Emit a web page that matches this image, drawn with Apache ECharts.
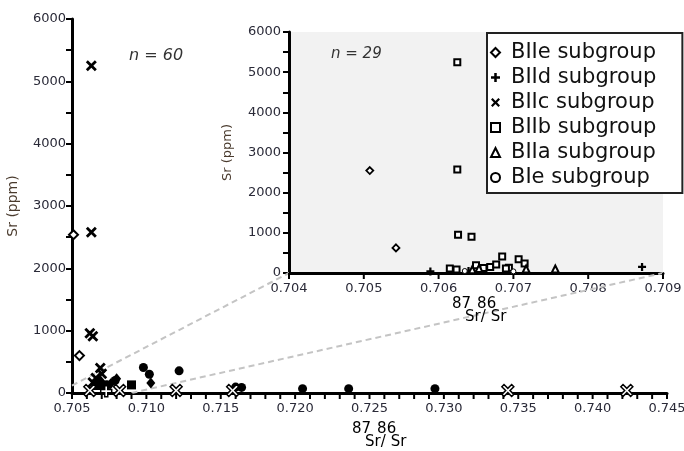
<!DOCTYPE html>
<html>
<head>
<meta charset="utf-8">
<script src="https://cdn.jsdelivr.net/npm/echarts@6/dist/echarts.min.js"></script>
<style>
  html, body { margin: 0; padding: 0; background: #fff; }
  #chart { width: 684px; height: 451px; }
</style>
</head>
<body>
<div id="chart"></div>
<script>
// ---- Main panel: all samples, 87Sr/86Sr vs Sr (ppm) ----
const mainXRange = [0.705, 0.745];
const mainYRange = [0, 6000];
const mainXTickStep = 0.001;
const mainOpenDiamond = [[0.7051, 2540], [0.7055, 600]];
const mainCross = [[0.7063, 5250], [0.7063, 2580], [0.7062, 960], [0.7064, 910],
                   [0.7069, 400], [0.7070, 310], [0.7066, 240], [0.7064, 170]];
const mainDot = [[0.7098, 410], [0.7102, 300], [0.7122, 355], [0.7160, 95], [0.7164, 90],
                 [0.7205, 70], [0.7236, 70], [0.7294, 70], [0.7067, 160], [0.7074, 130], [0.7079, 200]];
const mainSolidDiamond = [[0.7080, 230], [0.7103, 160], [0.7069, 200], [0.7076, 150]];
const mainSolidSquare = [[0.7090, 130], [0.7071, 130], [0.7066, 120]];
const mainOpenCross = [[0.7062, 40], [0.7082, 40], [0.7120, 40], [0.7158, 40], [0.7343, 40], [0.7423, 40]];
const mainOpenPlus = [[0.7073, 30]];

// ---- Inset panel: group B subgroups ----
const insetXRange = [0.704, 0.709];
const insetYRange = [0, 6000];
const insetXTickStep = 0.001;
const subgroupNames = ['BIIe subgroup', 'BIId subgroup', 'BIIc subgroup', 'BIIb subgroup', 'BIIa subgroup', 'BIe subgroup'];
const biie = [[0.70508, 2550], [0.70543, 625]];
const biid = [[0.70589, 40], [0.70640, 50], [0.70872, 150]];
const biic = [];
const biib = [[0.70625, 5250], [0.70625, 2575], [0.70626, 950], [0.70644, 900],
              [0.70615, 110], [0.70624, 85], [0.70650, 190], [0.70660, 125], [0.70669, 150],
              [0.70677, 210], [0.70685, 410], [0.70694, 130], [0.70707, 340], [0.70715, 235], [0.70690, 110]];
const biia = [[0.70654, 110], [0.70717, 100], [0.70756, 100], [0.70645, 80]];
const bie = [[0.70635, 50], [0.70700, 40]];

// links from the magnified corner of the main panel to the inset
const zoomFromMain = [[0.705, 120], [0.709, 0]];
const zoomToInset = [[0.704, 0], [0.709, 0]];

const FONT = 'DejaVu Sans';
const LABEL_COLOR = '#2a2a38';
const TITLE_COLOR = '#4a3b2e';

const CROSS = 'path://M0,1.8L1.8,0L5,3.2L8.2,0L10,1.8L6.8,5L10,8.2L8.2,10L5,6.8L1.8,10L0,8.2L3.2,5Z';
const PLUS = 'path://M3.6,0H6.4V3.6H10V6.4H6.4V10H3.6V6.4H0V3.6H3.6Z';
const TICK_LEN = 6;

function tickStyle() { return { color: '#000', width: 2 }; }

// tick positions along an x axis, every `step` from range[0] to range[1]
function tickValues(range, step) {
  const n = Math.round((range[1] - range[0]) / step);
  const out = [];
  for (let k = 0; k <= n; k++) out.push([+(range[0] + k * step).toFixed(4), 0]);
  return out;
}

function valueAxisX(range, gridIndex, interval) {
  return {
    type: 'value', gridIndex, min: range[0], max: range[1], interval,
    axisLine: { show: true, onZero: false, lineStyle: { color: '#000', width: 3 } },
    axisTick: { show: false },
    splitLine: { show: false },
    axisLabel: { fontFamily: FONT, fontSize: 13, color: LABEL_COLOR, margin: 9,
                 formatter: v => v.toFixed(3) }
  };
}
function valueAxisY(range, gridIndex, nameGap, nameSize, margin) {
  return {
    type: 'value', gridIndex, min: range[0], max: range[1], interval: 1000,
    name: 'Sr (ppm)', nameLocation: 'middle', nameGap,
    nameTextStyle: { fontFamily: FONT, fontSize: nameSize, color: TITLE_COLOR },
    axisLine: { show: true, onZero: false, lineStyle: { color: '#000', width: 3 } },
    axisTick: { show: true, length: TICK_LEN, lineStyle: tickStyle() },
    minorTick: { show: true, splitNumber: 2, length: TICK_LEN, lineStyle: tickStyle() },
    splitLine: { show: false },
    axisLabel: { fontFamily: FONT, fontSize: 13, color: LABEL_COLOR, margin,
                 formatter: v => String(v) }
  };
}
function scatter(name, data, grid, symbol, size, style, z) {
  return {
    type: 'scatter', name, data, xAxisIndex: grid, yAxisIndex: grid,
    symbol, symbolSize: size, itemStyle: Object.assign({ opacity: 1 }, style),
    clip: false, z: z || 3,
    emphasis: { disabled: true }, silent: true
  };
}
// short downward bars hung under the x axis line
function tickSeries(name, grid, range, step) {
  const s = scatter(name, tickValues(range, step), grid, 'rect', [2, TICK_LEN], { color: '#000' }, 2);
  s.symbolOffset = [0, TICK_LEN / 2];
  return s;
}

const open = (w) => ({ color: '#fff', borderColor: '#000', borderWidth: w });
const solid = { color: '#000' };

const isotopeRich = {
  s: { fontFamily: FONT, fontSize: 15, color: '#222', lineHeight: 12 },
  s2: { fontFamily: FONT, fontSize: 15, color: '#222', lineHeight: 12, padding: [0, 0, 0, 6] },
  t: { fontFamily: FONT, fontSize: 15, color: '#222', lineHeight: 13, padding: [0, 0, 0, 13] },
  t2: { fontFamily: FONT, fontSize: 15, color: '#222', lineHeight: 13, padding: [0, 0, 0, 5] }
};
const isotopeText = '{s|87}{s2|86}\n{t|Sr/}{t2|Sr}';

const chart = echarts.init(document.getElementById('chart'), null, { renderer: 'canvas' });

const option = {
  animation: false,
  backgroundColor: '#fff',
  grid: [
    { left: 72, top: 19, width: 595, height: 374, outerBoundsMode: 'none' },
    { left: 289, top: 32, width: 374, height: 241, outerBoundsMode: 'none',
      show: true, backgroundColor: '#f2f2f2', borderWidth: 0 }
  ],
  xAxis: [
    valueAxisX(mainXRange, 0, 0.005),
    valueAxisX(insetXRange, 1, 0.001)
  ],
  yAxis: [
    valueAxisY(mainYRange, 0, 52, 14, 6),
    valueAxisY(insetYRange, 1, 55, 13, 8)
  ],
  legend: {
    data: subgroupNames,
    orient: 'vertical',
    left: 487, top: 33,
    backgroundColor: '#fff',
    borderColor: '#222', borderWidth: 2,
    padding: [9, 26, 5, 3],
    itemWidth: 9, itemHeight: 9, itemGap: 4,
    textStyle: { fontFamily: FONT, fontSize: 21, color: '#111', lineHeight: 21, padding: [0, 0, 0, 6] },
    selectedMode: false,
    z: 10
  },
  series: [
    tickSeries('main-x-ticks', 0, mainXRange, mainXTickStep),
    tickSeries('inset-x-ticks', 1, insetXRange, insetXTickStep),

    scatter('main-open-diamond', mainOpenDiamond, 0, 'diamond', 9, open(2)),
    scatter('main-cross', mainCross, 0, CROSS, 11, solid),
    scatter('main-dot', mainDot, 0, 'circle', 9, solid),
    scatter('main-solid-diamond', mainSolidDiamond, 0, 'diamond', [9, 11], solid),
    scatter('main-solid-square', mainSolidSquare, 0, 'rect', 9, solid),
    scatter('main-open-cross', mainOpenCross, 0, CROSS, 12, open(1.5), 4),
    scatter('main-open-plus', mainOpenPlus, 0, PLUS, 11, open(1.5), 4),

    scatter(subgroupNames[0], biie, 1, 'diamond', 7, open(1.8), 5),
    scatter(subgroupNames[1], biid, 1, PLUS, 8, solid, 5),
    scatter(subgroupNames[2], biic, 1, CROSS, 8, solid, 5),
    scatter(subgroupNames[3], biib, 1, 'rect', 6, open(2), 5),
    scatter(subgroupNames[4], biia, 1, 'triangle', 7, open(2), 5),
    scatter(subgroupNames[5], bie, 1, 'circle', 5, open(1), 5)
  ]
};
chart.setOption(option);

// dashed guide lines from the main panel to the inset
const guides = zoomFromMain.map((p, i) => {
  const a = chart.convertToPixel({ gridIndex: 0 }, p);
  const b = chart.convertToPixel({ gridIndex: 1 }, zoomToInset[i]);
  return {
    type: 'line', z: 2, silent: true,
    shape: { x1: a[0], y1: a[1], x2: b[0], y2: b[1] },
    style: { stroke: '#c4c4c4', lineWidth: 2, lineDash: [6, 4] }
  };
});

chart.setOption({
  graphic: guides.concat([
    { type: 'text', left: 129, top: 48, z: 6, silent: true,
      style: { text: 'n = 60', fontFamily: FONT, fontStyle: 'italic', fontSize: 16, fill: '#333' } },
    { type: 'text', left: 331, top: 47, z: 6, silent: true,
      style: { text: 'n = 29', fontFamily: FONT, fontStyle: 'italic', fontSize: 15, fill: '#333' } },
    { type: 'text', left: 352, top: 422, z: 6, silent: true,
      style: { text: isotopeText, rich: isotopeRich, align: 'left' } },
    { type: 'text', left: 452, top: 297, z: 6, silent: true,
      style: { text: isotopeText, rich: isotopeRich, align: 'left' } }
  ])
});
</script>
</body>
</html>
